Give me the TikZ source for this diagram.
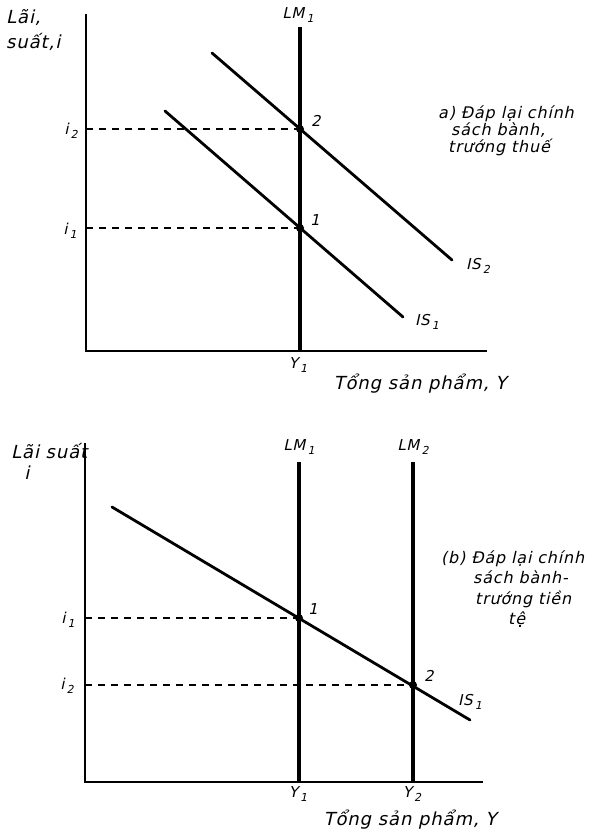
\documentclass[tikz,border=0pt]{standalone}
\usepackage{fontspec}
\setmainfont{DejaVu Sans}[FakeSlant=0.22, LetterSpace=5]
\newcommand{\sbs}[1]{\kern2.2pt\raisebox{-3.5pt}{\fontsize{11}{12}\selectfont #1}}
\begin{document}
\begin{tikzpicture}[x=1pt,y=-1pt,
  axis/.style={line width=1.8pt},
  lmline/.style={line width=4pt},
  isline/.style={line width=2.8pt, line cap=round},
  guide/.style={line width=1.1pt, dash pattern=on 7pt off 6pt},
  pt/.style={circle, fill=black, inner sep=0pt, minimum size=8pt},
  lbl/.style={inner sep=0pt, font=\fontsize{15}{17}\selectfont},
  ttl/.style={inner sep=0pt, font=\fontsize{18}{20}\selectfont},
  note/.style={inner sep=0pt, anchor=north west, align=left}]
\useasboundingbox (0,0) rectangle (599,835);

% ---------------- top panel ----------------
\coordinate (oA) at (86,351);
\coordinate (yA) at (86,14);
\coordinate (xA) at (487,351);
\draw[axis] (yA) -- (oA) -- (xA);
\coordinate (lmAtop) at (300,27);
\coordinate (lmAbot) at (300,351);
\draw[lmline] (lmAtop) -- (lmAbot);
\node[lbl] (lmAlbl) at (298,15) {LM\sbs{1}};
\coordinate (is2a) at (212,53);
\coordinate (is2b) at (452,260);
\coordinate (is1a) at (165,111);
\coordinate (is1b) at (403,317);
\draw[isline] (is2a) -- (is2b);
\draw[isline] (is1a) -- (is1b);
\node[pt] (pA2) at (300,129) {};
\node[pt] (pA1) at (300,228) {};
\coordinate (gA2) at (86,129);
\coordinate (gA1) at (86,228);
\draw[guide] (gA2) -- (pA2.center);
\draw[guide] (gA1) -- (pA1.center);
\node[lbl] (tA2) at (316,121) {2};
\node[lbl] (tA1) at (315,220) {1};
\node[lbl] (iA2) at (71,131) {i\sbs{2}};
\node[lbl] (iA1) at (70,231) {i\sbs{1}};
\node[lbl] (isA2) at (478,266) {IS\sbs{2}};
\node[lbl] (isA1) at (427,322) {IS\sbs{1}};
\node[lbl] (yA1) at (298,365) {Y\sbs{1}};
\node[ttl] (xAlbl) at (420,384) {Tổng sản phẩm, Y};
\node[ttl, anchor=west] (yAlbl1) at (6,18) {Lãi,};
\node[ttl, anchor=west] (yAlbl2) at (6,42) {suất,i};
\node[note, font=\fontsize{16}{17}\selectfont] (nA) at (438,106)
  {a) Đáp lại chính\\\hspace*{13pt}sách bành,\\\hspace*{10pt}trướng thuế};

% ---------------- bottom panel ----------------
\coordinate (oB) at (85,782);
\coordinate (yB) at (85,443);
\coordinate (xB) at (483,782);
\draw[axis] (yB) -- (oB) -- (xB);
\coordinate (lmB1top) at (299,462);
\coordinate (lmB1bot) at (299,782);
\coordinate (lmB2top) at (413,462);
\coordinate (lmB2bot) at (413,782);
\draw[lmline] (lmB1top) -- (lmB1bot);
\draw[lmline] (lmB2top) -- (lmB2bot);
\node[lbl] (lmB1lbl) at (299,447) {LM\sbs{1}};
\node[lbl] (lmB2lbl) at (413,447) {LM\sbs{2}};
\coordinate (isBa) at (112,507);
\coordinate (isBb) at (470,720);
\draw[isline] (isBa) -- (isBb);
\node[pt] (pB1) at (299,618) {};
\node[pt] (pB2) at (413,685) {};
\coordinate (gB1) at (85,618);
\coordinate (gB2) at (85,685);
\draw[guide] (gB1) -- (pB1.center);
\draw[guide] (gB2) -- (pB2.center);
\node[lbl] (tB1) at (313,609) {1};
\node[lbl] (tB2) at (429,676) {2};
\node[lbl] (iB1) at (68,620) {i\sbs{1}};
\node[lbl] (iB2) at (67,686) {i\sbs{2}};
\node[lbl] (isB1) at (470,702) {IS\sbs{1}};
\node[lbl] (yB1) at (298,794) {Y\sbs{1}};
\node[lbl] (yB2) at (412,794) {Y\sbs{2}};
\node[ttl] (xBlbl) at (410,820) {Tổng sản phẩm, Y};
\node[ttl, anchor=west] (yBlbl1) at (11,451) {Lãi suất};
\node[ttl] (yBlbl2) at (27,473) {i};
\node[note, font=\fontsize{16}{20.5}\selectfont] (nB) at (441,550)
  {(b) Đáp lại chính\\\hspace*{32pt}sách bành-\\\hspace*{34pt}trướng tiền\\\hspace*{67pt}tệ};
\end{tikzpicture}
\end{document}
